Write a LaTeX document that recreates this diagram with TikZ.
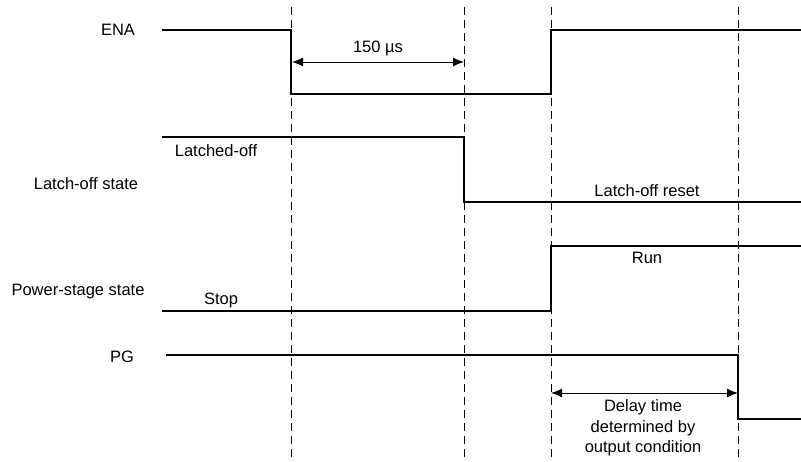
\documentclass[tikz,border=0pt]{standalone}
\usepackage{fontspec}
\setmainfont{Liberation Sans}
\usetikzlibrary{arrows.meta}

\begin{document}
\begin{tikzpicture}[x=1pt, y=-1pt, font=\fontsize{16.5}{20}\selectfont,
    signal/.style={black, line width=1.2pt},
    marker/.style={black, line width=0.9pt, dash pattern=on 8pt off 5pt},
    span/.style={black, line width=1pt, {Latex[length=11pt,width=9pt]}-{Latex[length=11pt,width=9pt]}},
    lbl/.style={inner sep=0pt, anchor=center}]
      \useasboundingbox (0,0) rectangle (801,461);
      % ENA
      \coordinate (e1) at (162,30);
      \coordinate (e2) at (291,30);
      \coordinate (e3) at (291,94);
      \coordinate (e4) at (551,94);
      \coordinate (e5) at (551,30);
      \coordinate (e6) at (801,30);
      % latch-off state
      \coordinate (l1) at (162,137);
      \coordinate (l2) at (464,137);
      \coordinate (l3) at (464,202);
      \coordinate (l4) at (801,202);
      % power-stage state
      \coordinate (p1) at (162,311);
      \coordinate (p2) at (551,311);
      \coordinate (p3) at (551,246);
      \coordinate (p4) at (801,246);
      % PG
      \coordinate (g1) at (166,355);
      \coordinate (g2) at (738,355);
      \coordinate (g3) at (738,419);
      \coordinate (g4) at (801,419);
      % time markers
      \foreach \i/\x in {1/291,2/464,3/551,4/738} {
        \coordinate (t\i) at (\x,7);
        \coordinate (b\i) at (\x,458);
        \draw[marker] (t\i) -- (b\i);
      }
      \draw[signal] (e1) -- (e2) -- (e3) -- (e4) -- (e5) -- (e6);
      \draw[signal] (l1) -- (l2) -- (l3) -- (l4);
      \draw[signal] (p1) -- (p2) -- (p3) -- (p4);
      \draw[signal] (g1) -- (g2) -- (g3) -- (g4);
      % spans
      \coordinate (a1) at (292,62);
      \coordinate (a2) at (464,62);
      \coordinate (d1) at (551,393);
      \coordinate (d2) at (738,393);
      \draw[span] (a1) -- (a2);
      \draw[span] (d1) -- (d2);
      \node[lbl] (tena) at (378,48) {150 µs};
      \node[lbl, align=center, font=\fontsize{16.5}{20.5}\selectfont] (tdelay) at (643,428) {Delay time\\determined by\\output condition};
      % signal names
      \node[lbl] (nena) at (118,30) {ENA};
      \node[lbl] (nlatch) at (86,184) {Latch-off state};
      \node[lbl] (npower) at (78,292) {Power-stage state};
      \node[lbl] (npg) at (122,357) {PG};
      % states
      \node[lbl] (slatched) at (216,151) {Latched-off};
      \node[lbl] (sreset) at (647,191) {Latch-off reset};
      \node[lbl] (srun) at (647,258) {Run};
      \node[lbl] (sstop) at (221,300) {Stop};
    \end{tikzpicture}
\end{document}
